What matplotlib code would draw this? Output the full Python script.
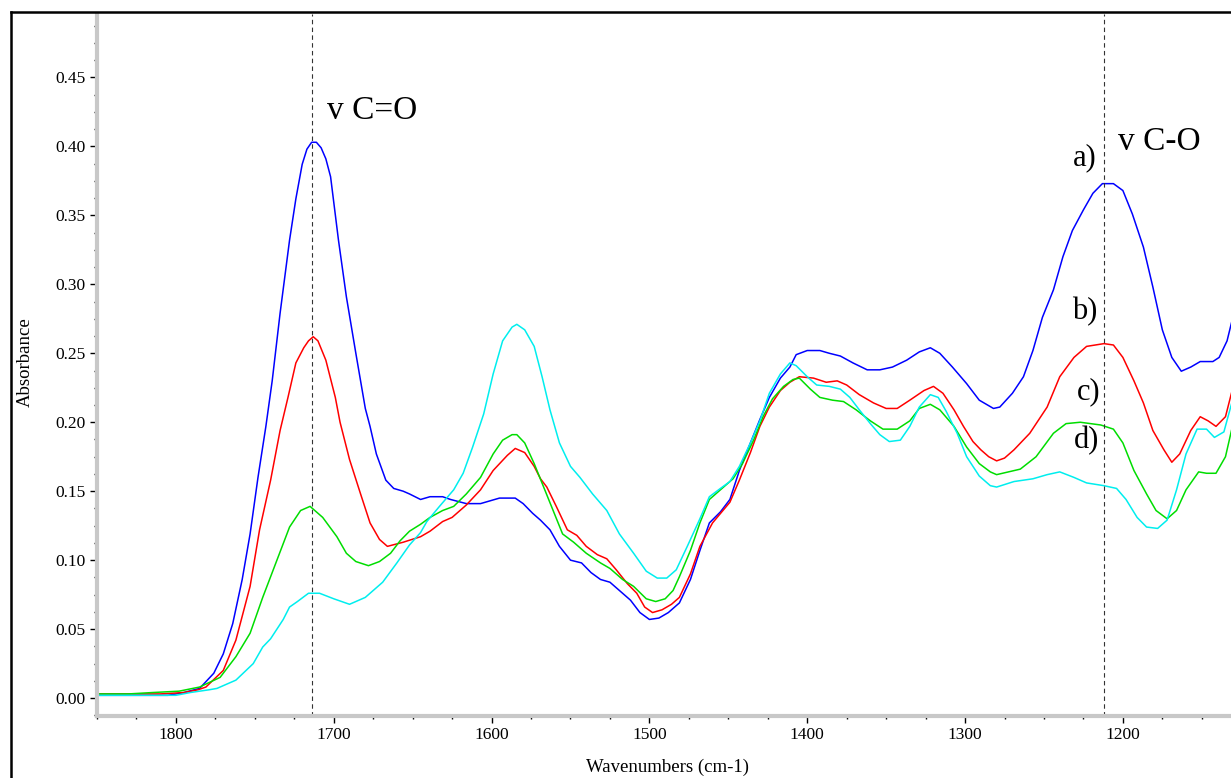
import matplotlib
matplotlib.use('Agg')
from matplotlib import pyplot as plt
from matplotlib.lines import Line2D
from matplotlib.ticker import MultipleLocator, FormatStrFormatter

plt.rcParams['font.family'] = 'Liberation Serif'

# spectrum a) - blue
wn_a = [1850, 1825, 1805, 1795, 1785, 1776, 1770, 1764, 1758, 1753, 1748, 1743, 1739, 1734,
        1728, 1724, 1720, 1717, 1714, 1711, 1708, 1705, 1702, 1697, 1692, 1686, 1680, 1677,
        1673, 1667, 1662, 1656, 1652, 1645, 1639, 1631, 1626, 1616, 1607, 1595, 1585, 1580,
        1574, 1569, 1563, 1557, 1550, 1543, 1537, 1531, 1525, 1519, 1512, 1506, 1500, 1494,
        1488, 1481, 1474, 1468, 1462, 1455, 1449, 1443, 1436, 1430, 1424, 1417, 1411, 1407,
        1400, 1392, 1386, 1379, 1371, 1362, 1354, 1346, 1337, 1329, 1322, 1316, 1308, 1299,
        1291, 1282, 1278, 1270, 1263, 1257, 1251, 1244, 1238, 1232, 1225, 1219, 1213, 1206,
        1200, 1194, 1187, 1181, 1175, 1169, 1163, 1157, 1151, 1143, 1139, 1134, 1131]
abs_a = [0.002, 0.002, 0.002, 0.004, 0.007, 0.018, 0.032, 0.054, 0.086, 0.119, 0.160, 0.197,
         0.230, 0.279, 0.332, 0.362, 0.387, 0.398, 0.403, 0.403, 0.399, 0.391, 0.378, 0.332,
         0.291, 0.250, 0.210, 0.197, 0.177, 0.158, 0.152, 0.150, 0.148, 0.144, 0.146, 0.146,
         0.144, 0.141, 0.141, 0.145, 0.145, 0.141, 0.134, 0.129, 0.122, 0.110, 0.100, 0.098,
         0.091, 0.086, 0.084, 0.078, 0.071, 0.062, 0.057, 0.058, 0.062, 0.069, 0.086, 0.107,
         0.127, 0.135, 0.144, 0.165, 0.185, 0.202, 0.218, 0.232, 0.240, 0.249, 0.252, 0.252,
         0.250, 0.248, 0.243, 0.238, 0.238, 0.240, 0.245, 0.251, 0.254, 0.250, 0.240, 0.228,
         0.216, 0.210, 0.211, 0.221, 0.233, 0.252, 0.276, 0.296, 0.320, 0.339, 0.354, 0.366,
         0.373, 0.373, 0.368, 0.351, 0.327, 0.298, 0.267, 0.247, 0.237, 0.240, 0.244, 0.244,
         0.247, 0.259, 0.273]

# spectrum b) - red
wn_b = [1850, 1830, 1810, 1795, 1786, 1781, 1770, 1762, 1753, 1747, 1740, 1734, 1729, 1724,
        1719, 1716, 1713, 1710, 1705, 1699, 1696, 1690, 1683, 1677, 1671, 1666, 1656, 1645,
        1639, 1631, 1625, 1616, 1607, 1599, 1590, 1585, 1579, 1573, 1569, 1565, 1559, 1552,
        1546, 1540, 1533, 1527, 1521, 1514, 1508, 1503, 1498, 1492, 1486, 1481, 1474, 1468,
        1460, 1449, 1443, 1436, 1430, 1424, 1417, 1411, 1405, 1396, 1388, 1381, 1375, 1367,
        1358, 1350, 1343, 1335, 1326, 1320, 1314, 1307, 1301, 1295, 1290, 1285, 1280, 1275,
        1269, 1259, 1248, 1240, 1231, 1223, 1212, 1206, 1200, 1193, 1187, 1181, 1174, 1169,
        1164, 1157, 1151, 1146, 1141, 1135, 1131]
abs_b = [0.003, 0.003, 0.003, 0.004, 0.006, 0.008, 0.020, 0.042, 0.081, 0.122, 0.158, 0.194,
         0.218, 0.243, 0.254, 0.259, 0.262, 0.259, 0.245, 0.218, 0.200, 0.173, 0.148, 0.127,
         0.115, 0.110, 0.113, 0.117, 0.121, 0.128, 0.131, 0.140, 0.151, 0.165, 0.176, 0.181,
         0.178, 0.168, 0.159, 0.153, 0.139, 0.122, 0.118, 0.110, 0.104, 0.101, 0.093, 0.083,
         0.076, 0.066, 0.062, 0.064, 0.068, 0.073, 0.090, 0.110, 0.127, 0.142, 0.158, 0.178,
         0.197, 0.211, 0.223, 0.229, 0.233, 0.232, 0.229, 0.230, 0.227, 0.220, 0.214, 0.210,
         0.210, 0.216, 0.223, 0.226, 0.221, 0.209, 0.197, 0.186, 0.180, 0.175, 0.172, 0.174,
         0.180, 0.192, 0.211, 0.233, 0.247, 0.255, 0.257, 0.256, 0.247, 0.230, 0.214, 0.194,
         0.180, 0.171, 0.177, 0.194, 0.204, 0.201, 0.197, 0.204, 0.222]

# spectrum c) - green
wn_c = [1850, 1830, 1815, 1798, 1785, 1772, 1762, 1753, 1745, 1736, 1728, 1721, 1715, 1707,
        1698, 1692, 1686, 1678, 1671, 1664, 1658, 1652, 1645, 1639, 1631, 1624, 1616, 1607,
        1599, 1593, 1587, 1584, 1579, 1573, 1567, 1561, 1555, 1548, 1540, 1531, 1525, 1517,
        1510, 1502, 1496, 1490, 1485, 1481, 1474, 1468, 1462, 1453, 1447, 1441, 1434, 1428,
        1422, 1415, 1409, 1405, 1398, 1392, 1384, 1377, 1369, 1360, 1352, 1343, 1335, 1329,
        1322, 1316, 1307, 1299, 1291, 1284, 1280, 1265, 1255, 1244, 1236, 1227, 1214, 1206,
        1200, 1193, 1185, 1179, 1172, 1166, 1160, 1152, 1147, 1141, 1135, 1131]
abs_c = [0.003, 0.003, 0.004, 0.005, 0.008, 0.015, 0.030, 0.047, 0.073, 0.100, 0.124, 0.136,
         0.139, 0.131, 0.117, 0.105, 0.099, 0.096, 0.099, 0.105, 0.114, 0.121, 0.126, 0.131,
         0.136, 0.139, 0.148, 0.160, 0.177, 0.187, 0.191, 0.191, 0.185, 0.170, 0.153, 0.136,
         0.119, 0.113, 0.105, 0.098, 0.094, 0.086, 0.081, 0.072, 0.070, 0.072, 0.078, 0.088,
         0.107, 0.127, 0.144, 0.153, 0.159, 0.170, 0.187, 0.204, 0.217, 0.226, 0.231, 0.232,
         0.224, 0.218, 0.216, 0.215, 0.209, 0.201, 0.195, 0.195, 0.201, 0.210, 0.213, 0.209,
         0.197, 0.182, 0.170, 0.164, 0.162, 0.166, 0.175, 0.192, 0.199, 0.200, 0.198, 0.195,
         0.185, 0.165, 0.148, 0.136, 0.130, 0.136, 0.151, 0.164, 0.163, 0.163, 0.175, 0.195]

# spectrum d) - cyan
wn_d = [1850, 1820, 1800, 1791, 1779, 1774, 1762, 1751, 1745, 1740, 1732, 1728, 1723, 1716,
        1709, 1700, 1690, 1680, 1669, 1660, 1652, 1645, 1641, 1633, 1624, 1618, 1612, 1605,
        1599, 1593, 1587, 1584, 1579, 1573, 1568, 1563, 1557, 1550, 1544, 1536, 1527, 1519,
        1510, 1502, 1495, 1489, 1483, 1476, 1474, 1468, 1462, 1455, 1449, 1443, 1436, 1430,
        1424, 1417, 1411, 1407, 1400, 1394, 1386, 1379, 1373, 1367, 1360, 1354, 1348, 1341,
        1335, 1329, 1322, 1317, 1312, 1305, 1299, 1291, 1284, 1280, 1269, 1257, 1248, 1240,
        1231, 1223, 1212, 1204, 1198, 1191, 1185, 1178, 1172, 1166, 1160, 1153, 1147, 1142,
        1136, 1131]
abs_d = [0.002, 0.002, 0.002, 0.004, 0.006, 0.007, 0.013, 0.025, 0.037, 0.043, 0.057, 0.066,
         0.070, 0.076, 0.076, 0.072, 0.068, 0.073, 0.084, 0.098, 0.111, 0.120, 0.128, 0.139,
         0.151, 0.163, 0.182, 0.206, 0.235, 0.259, 0.269, 0.271, 0.267, 0.255, 0.233, 0.209,
         0.185, 0.168, 0.160, 0.148, 0.136, 0.119, 0.105, 0.092, 0.087, 0.087, 0.093, 0.110,
         0.115, 0.130, 0.146, 0.152, 0.157, 0.168, 0.185, 0.201, 0.221, 0.235, 0.243, 0.241,
         0.233, 0.227, 0.226, 0.224, 0.218, 0.209, 0.199, 0.191, 0.186, 0.187, 0.197, 0.211,
         0.220, 0.218, 0.208, 0.192, 0.175, 0.161, 0.154, 0.153, 0.157, 0.159, 0.162, 0.164,
         0.160, 0.156, 0.154, 0.152, 0.144, 0.131, 0.124, 0.123, 0.129, 0.151, 0.177, 0.195,
         0.195, 0.189, 0.193, 0.214]

marker_lines = [1714, 1212]
series_labels = ['a)', 'b)', 'c)', 'd)']
label_pos = [(1232, 0.392), (1232, 0.280), (1229, 0.222), (1231, 0.187)]

fig = plt.figure(figsize=(12.31, 7.78), dpi=100)
ax = fig.add_axes([97 / 1231, 62 / 778, 1 - 97 / 1231, 0.9023])

ax.plot(wn_a, abs_a, c='#0000ff', lw=1.1)
ax.plot(wn_b, abs_b, c='#ff0000', lw=1.1)
ax.plot(wn_c, abs_c, c='#00dd00', lw=1.1)
ax.plot(wn_d, abs_d, c='#00eeee', lw=1.1)

for xv in marker_lines:
    ax.axvline(xv, color='#333333', lw=0.8, ls=(0, (4, 3)))

ax.text(1704, 0.426, 'v C=O', fontsize=24, va='center', ha='left')
ax.text(1203, 0.4036, 'v C-O', fontsize=24, va='center', ha='left')
for lab, (xp, yp) in zip(series_labels, label_pos):
    ax.text(xp, yp, lab, fontsize=22, va='center', ha='left')

ax.set_xlim(1850, 1131.5)
ax.set_ylim(-0.013, 0.496)
ax.xaxis.set_major_locator(MultipleLocator(100))
ax.xaxis.set_minor_locator(MultipleLocator(25))
ax.yaxis.set_major_locator(MultipleLocator(0.05))
ax.yaxis.set_minor_locator(MultipleLocator(0.0125))
ax.yaxis.set_major_formatter(FormatStrFormatter('%.2f'))
ax.set_yticks([v / 100 for v in range(0, 50, 5)])
ax.set_xticks(range(1800, 1199, -100))

for side in ['top', 'right']:
    ax.spines[side].set_visible(False)
for side in ['left', 'bottom']:
    ax.spines[side].set_color('#c8c8c8')
    ax.spines[side].set_linewidth(3)
ax.tick_params(axis='both', which='major', length=5, width=1, color='black',
               labelsize=12.5, pad=3, direction='out')
ax.tick_params(axis='both', which='minor', length=2, width=1, color='black', direction='out')

fig.text(668 / 1231, 1 - 767 / 778, 'Wavenumbers (cm-1)', fontsize=13.5, ha='center', va='center')
fig.text(25 / 1231, 1 - 362 / 778, 'Absorbance', fontsize=13.5, rotation=90, ha='center', va='center')

# outer frame (top and left visible)
fig.add_artist(Line2D([10.5 / 1231, 10.5 / 1231], [0, 1 - 12 / 778], color='black', lw=1.8,
                      transform=fig.transFigure))
fig.add_artist(Line2D([10.5 / 1231, 1], [1 - 12 / 778, 1 - 12 / 778], color='black', lw=1.8,
                      transform=fig.transFigure))

fig.savefig('out.png', dpi=100)
